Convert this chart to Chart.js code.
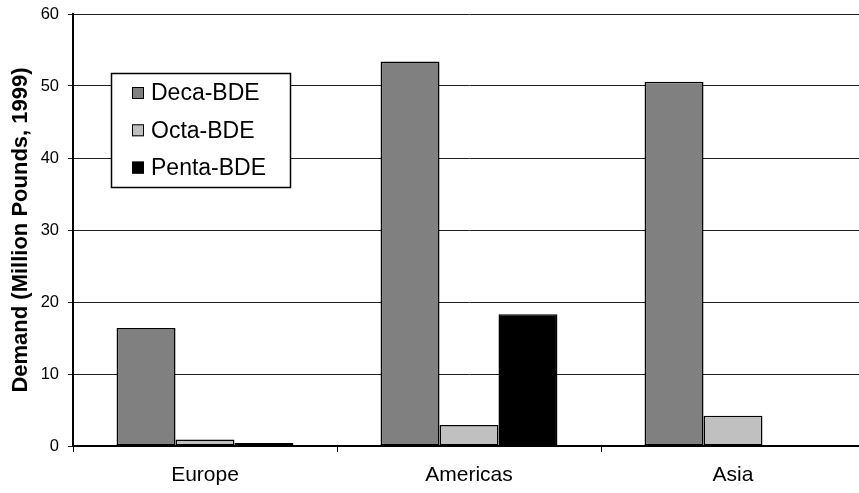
<!DOCTYPE html>
<html>
<head>
<meta charset="utf-8">
<script src="https://cdn.jsdelivr.net/npm/chart.js@4.4.1/dist/chart.umd.min.js"></script>
<style>
  html, body { margin: 0; padding: 0; background: #fff; overflow: hidden; }
  #wrap { position: relative; width: 865px; height: 493px; }
</style>
</head>
<body>
<div id="wrap"><canvas id="c"></canvas></div>
<script>
// Regional demand for brominated flame retardants
const regions = ['Europe', 'Americas', 'Asia'];
const decaBDE = [16.4, 53.4, 50.6];
const octaBDE = [0.9, 2.9, 4.2];
const pentaBDE = [0.4, 18.3, 0];
const yTicks = [0, 10, 20, 30, 40, 50, 60];

const FONT = '"Liberation Sans", Arial, sans-serif';

// Boxed legend drawn inside the plot area
const boxLegend = {
  id: 'boxLegend',
  afterDraw(chart) {
    const ctx = chart.ctx;
    const x0 = 111, y0 = 73, w = 179, h = 114;
    ctx.save();
    ctx.fillStyle = '#fff';
    ctx.fillRect(x0, y0, w, h);
    ctx.strokeStyle = '#000';
    ctx.lineWidth = 1.5;
    ctx.strokeRect(x0 + 0.5, y0 + 0.5, w, h);
    ctx.font = '23px ' + FONT;
    ctx.textBaseline = 'middle';
    ctx.textAlign = 'left';
    chart.data.datasets.forEach((ds, i) => {
      const cy = 93 + i * 37.3;
      ctx.fillStyle = ds.backgroundColor;
      ctx.fillRect(132, cy - 6, 12, 12);
      ctx.lineWidth = 1;
      ctx.strokeStyle = '#000';
      ctx.strokeRect(132.5, cy - 5.5, 11, 11);
      ctx.fillStyle = '#000';
      ctx.fillText(ds.label, 151, cy + 1);
    });
    ctx.restore();
  }
};

const barStyle = { borderColor: '#000', borderWidth: 1.5, borderSkipped: false };

new Chart(document.getElementById('c'), {
  type: 'bar',
  data: {
    labels: regions,
    datasets: [
      Object.assign({ label: 'Deca-BDE', data: decaBDE, backgroundColor: '#808080' }, barStyle),
      Object.assign({ label: 'Octa-BDE', data: octaBDE, backgroundColor: '#c0c0c0' }, barStyle),
      Object.assign({ label: 'Penta-BDE', data: pentaBDE, backgroundColor: '#000000' }, barStyle)
    ]
  },
  options: {
    responsive: true,
    maintainAspectRatio: false,
    animation: false,
    devicePixelRatio: 1,
    layout: { padding: { top: 14, right: 0, left: 0, bottom: 0 } },
    datasets: { bar: { categoryPercentage: 0.67, barPercentage: 1.0 } },
    plugins: { legend: { display: false }, tooltip: { enabled: false } },
    scales: {
      x: {
        afterFit(axis) { axis.height = 47; },
        grid: {
          offset: true,
          drawOnChartArea: false,
          drawTicks: true,
          tickLength: 6,
          color: '#000',
          lineWidth: 1
        },
        border: { display: true, color: '#000', width: 2 },
        ticks: {
          color: '#000',
          padding: 11,
          font: { family: FONT, size: 21 }
        }
      },
      y: {
        min: 0,
        max: 60,
        afterFit(axis) {
          axis.width = 73;
          axis.paddingTop = 0;
          axis.paddingBottom = 0;
        },
        afterBuildTicks(axis) { axis.ticks = yTicks.map(v => ({ value: v })); },
        grid: {
          color: '#202020',
          lineWidth: 1,
          tickLength: 5,
          drawTicks: true
        },
        border: { display: true, color: '#000', width: 2 },
        ticks: {
          color: '#000',
          padding: 9,
          font: { family: FONT, size: 16.5 }
        },
        title: {
          display: true,
          text: 'Demand (Million Pounds, 1999)',
          color: '#000',
          padding: { top: 8, bottom: 0 },
          font: { family: FONT, size: 22, weight: 'bold' }
        }
      }
    }
  },
  plugins: [boxLegend]
});
</script>
</body>
</html>
